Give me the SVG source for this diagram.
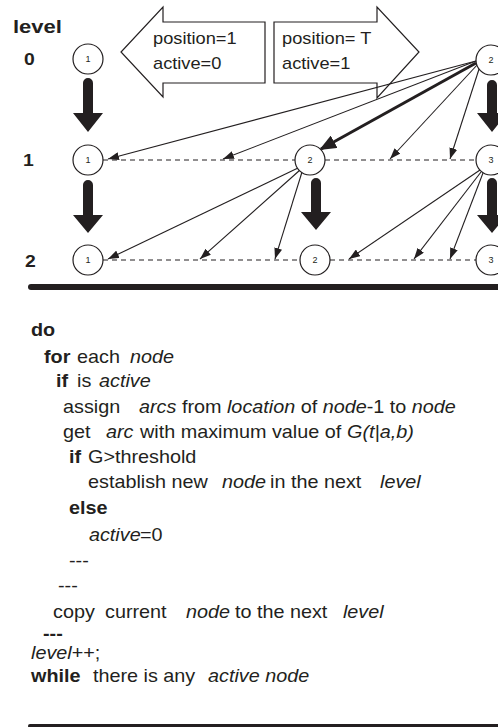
<svg xmlns="http://www.w3.org/2000/svg" width="498" height="727" viewBox="0 0 498 727">
<defs>
<style>
text{font-family:"Liberation Sans",Arial,sans-serif;fill:#231f20}
.b{font-weight:bold}
.i{font-style:italic}
.lbl{font-size:17px;font-weight:bold}
.num{font-size:9px;text-anchor:middle}
.node{fill:#fff;stroke:#231f20;stroke-width:1.2}
.blk{fill:#fff;stroke:#231f20;stroke-width:1.2;stroke-linejoin:miter}
.thin{stroke:#231f20;stroke-width:1.1;fill:none;marker-end:url(#ah)}
.thick{stroke:#231f20;stroke-width:3;fill:none;marker-end:url(#ahb)}
.dash{stroke:#231f20;stroke-width:1;stroke-dasharray:5 4;fill:none}
.down{fill:#231f20}
.code{font-size:18px}
.box{font-size:16px}
</style>
<marker id="ah" markerUnits="userSpaceOnUse" markerWidth="12" markerHeight="8" refX="11" refY="4" orient="auto"><path d="M0,0 L11,4 L0,8 Z" fill="#231f20"/></marker>
<marker id="ahb" markerUnits="userSpaceOnUse" markerWidth="18" markerHeight="14" refX="15" refY="7" orient="auto"><path d="M0,0 L17,7 L0,14 Z" fill="#231f20"/></marker>
</defs>

<g id="level-labels">
<text class="b" font-size="19" transform="translate(13 33) scale(1.16 1)">level</text>
<text class="lbl" transform="translate(24 65) scale(1.14 1)">0</text>
<text class="lbl" transform="translate(23 166) scale(1.14 1)">1</text>
<text class="lbl" transform="translate(25 267) scale(1.14 1)">2</text>
</g>

<g id="box-left">
<path class="blk" d="M265,22 L163,22 L163,7 L121,52 L163,97 L163,83 L265,83 Z"/>
<text class="box" transform="translate(153 44) scale(1.14 1)">position=1</text>
<text class="box" transform="translate(153 69) scale(1.14 1)">active=0</text>
</g>
<g id="box-right">
<path class="blk" d="M274,22 L377,22 L377,7 L419,52 L377,98 L377,83 L274,83 Z"/>
<text class="box" xml:space="preserve" transform="translate(282 44) scale(1.14 1)">position= T</text>
<text class="box" transform="translate(282 69) scale(1.14 1)">active=1</text>
</g>

<g id="connectors">
<line class="dash" x1="103" y1="160" x2="295" y2="160"/>
<line class="dash" x1="325" y1="160" x2="476" y2="160"/>
<line class="dash" x1="103" y1="260" x2="300" y2="260"/>
<line class="dash" x1="330" y1="260" x2="476" y2="260"/>
<line class="thin" x1="476" y1="61" x2="108" y2="159"/>
<line class="thin" x1="476" y1="61" x2="223" y2="159"/>
<line class="thick" x1="476" y1="63" x2="321" y2="149"/>
<line class="thin" x1="478" y1="64" x2="390" y2="159"/>
<line class="thin" x1="480" y1="66" x2="450" y2="159"/>
<line class="thin" x1="298" y1="168" x2="108" y2="259"/>
<line class="thin" x1="300" y1="170" x2="200" y2="259"/>
<line class="thin" x1="302" y1="172" x2="275" y2="259"/>
<line class="thin" x1="480" y1="170" x2="349" y2="259"/>
<line class="thin" x1="481" y1="172" x2="414" y2="259"/>
<line class="thin" x1="483" y1="173" x2="450" y2="259"/>
<path class="down" d="M83,83 a5,5 0 0 1 10,0 V113 H103 L88,132 L73,113 H83 Z"/>
<path class="down" d="M83,185 a5,5 0 0 1 10,0 V215 H103 L88,233 L73,215 H83 Z"/>
<path class="down" d="M311,183 a5,5 0 0 1 10,0 V212 H331 L316,230 L301,212 H311 Z"/>
<path class="down" d="M487,85 a5,5 0 0 1 10,0 V113 H507 L492,132 L477,113 H487 Z"/>
<path class="down" d="M487,183 a5,5 0 0 1 10,0 V215 H507 L492,233 L477,215 H487 Z"/>
</g>

<g id="n0-1"><circle class="node" cx="88" cy="59" r="15"/><text class="num" x="88" y="62">1</text></g>
<g id="n0-2"><circle class="node" cx="491" cy="60" r="15"/><text class="num" x="491" y="63">2</text></g>
<g id="n1-1"><circle class="node" cx="88" cy="160" r="15"/><text class="num" x="88" y="163">1</text></g>
<g id="n1-2"><circle class="node" cx="310" cy="160" r="15"/><text class="num" x="310" y="163">2</text></g>
<g id="n1-3"><circle class="node" cx="491" cy="160" r="15"/><text class="num" x="491" y="163">3</text></g>
<g id="n2-1"><circle class="node" cx="88" cy="260" r="15"/><text class="num" x="88" y="263">1</text></g>
<g id="n2-2"><circle class="node" cx="315" cy="260" r="15"/><text class="num" x="315" y="263">2</text></g>
<g id="n2-3"><circle class="node" cx="491" cy="260" r="15"/><text class="num" x="491" y="263">3</text></g>

<line x1="31" y1="287" x2="510" y2="287" stroke="#231f20" stroke-width="6" stroke-linecap="round"/>

<g id="code" class="code" transform="scale(1.1 1)">
<text class="b" x="28.2" y="336">do</text>
<text y="363"><tspan class="b" x="40">for</tspan><tspan x="70">each</tspan><tspan class="i" x="118.2">node</tspan></text>
<text y="387"><tspan class="b" x="50.9">if</tspan><tspan x="70">is</tspan><tspan class="i" x="90">active</tspan></text>
<text y="413" xml:space="preserve"><tspan x="57.3">assign</tspan><tspan class="i" x="126.4">arcs</tspan><tspan> from </tspan><tspan class="i">location</tspan><tspan> of </tspan><tspan class="i">node</tspan><tspan>-1 to </tspan><tspan class="i">node</tspan></text>
<text y="438"><tspan x="57.3">get</tspan><tspan class="i" x="96.4">arc</tspan><tspan x="127.3">with maximum value of</tspan><tspan class="i" x="315.5">G(t|a,b)</tspan></text>
<text y="463"><tspan class="b" x="62.7">if</tspan><tspan x="80">G&gt;threshold</tspan></text>
<text y="488"><tspan x="80">establish new</tspan><tspan class="i" x="201.8">node</tspan><tspan x="245.5">in the next</tspan><tspan class="i" x="345.5">level</tspan></text>
<text class="b" x="62.7" y="514">else</text>
<text y="541"><tspan class="i" x="80.9">active</tspan><tspan x="127.3">=0</tspan></text>
<text x="62.7" y="567">---</text>
<text x="52.7" y="592">---</text>
<text y="618"><tspan x="48.2">copy</tspan><tspan x="95.5">current</tspan><tspan class="i" x="169.1">node</tspan><tspan x="213.6">to the next</tspan><tspan class="i" x="311.8">level</tspan></text>
<text class="b" x="39.1" y="640">---</text>
<text y="659"><tspan class="i" x="28.2">level</tspan><tspan>++;</tspan></text>
<text y="682"><tspan class="b" x="28.2">while</tspan><tspan x="84.5">there is any</tspan><tspan class="i" x="189.1">active node</tspan></text>
</g>

<line x1="30" y1="726" x2="510" y2="726" stroke="#231f20" stroke-width="4" stroke-linecap="round"/>
</svg>
